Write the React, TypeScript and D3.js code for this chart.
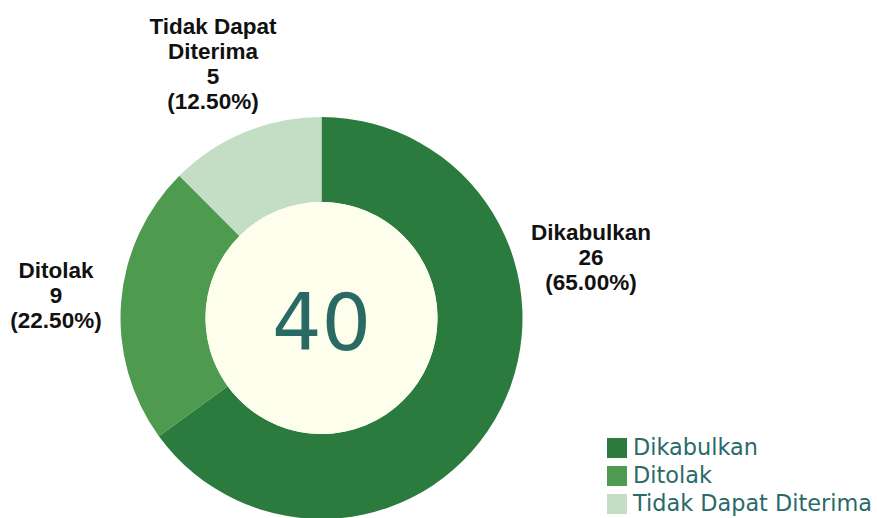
import React, { useEffect, useRef } from 'react'
import * as d3 from 'd3'

const categories = ['Dikabulkan', 'Ditolak', 'Tidak Dapat Diterima']
const counts = [26, 9, 5]
const colors = ['#2b7a3e', '#4e9a4f', '#c4dec6']

const W = 877
const H = 518

export default function App() {
  const ref = useRef<SVGSVGElement>(null)

  useEffect(() => {
    const svg = d3.select(ref.current)
    svg.selectAll('*').remove()

    const total = d3.sum(counts)
    const cx = 321.5, cy = 318
    const outerR = 201, innerR = 116

    const color = d3.scaleOrdinal<string, string>().domain(categories).range(colors)
    const data = categories.map((c, i) => ({ name: c, value: counts[i] }))

    const pie = d3.pie<any>().sort(null).value(d => d.value)
    const arc = d3.arc<any>().innerRadius(innerR).outerRadius(outerR)

    const g = svg.append('g').attr('transform', `translate(${cx},${cy})`)

    g.selectAll('path')
      .data(pie(data))
      .enter().append('path')
      .attr('d', arc)
      .attr('fill', d => color(d.data.name))

    // inner disc
    g.append('circle').attr('r', innerR).attr('fill', '#fdfeeb')

    g.append('text')
      .attr('text-anchor', 'middle')
      .attr('y', 32)
      .attr('font-family', 'DejaVu Sans, Verdana, sans-serif')
      .attr('font-size', 78)
      .attr('fill', '#2a6a64')
      .text(total)

    // outside labels (positions in page coords)
    const labelPos: [number, number, string[]][] = [
      [591, 240, ['Dikabulkan']],
      [56, 278, ['Ditolak']],
      [213, 34, ['Tidak Dapat', 'Diterima']],
    ]
    data.forEach((d, i) => {
      const [lx, ly, nameLines] = labelPos[i]
      const lines = [...nameLines, String(d.value), `(${(d.value / total * 100).toFixed(2)}%)`]
      const t = svg.append('text')
        .attr('text-anchor', 'middle')
        .attr('font-family', 'Liberation Sans, Arial, sans-serif')
        .attr('font-weight', 'bold')
        .attr('font-size', 22.5)
        .attr('fill', '#111')
      lines.forEach((ln, j) => {
        t.append('tspan').attr('x', lx).attr('y', ly + j * 25).text(ln)
      })
    })

    // legend
    const leg = svg.append('g').attr('transform', 'translate(607,438)')
    categories.forEach((c, i) => {
      const row = leg.append('g').attr('transform', `translate(0,${i * 28})`)
      row.append('rect').attr('width', 20).attr('height', 20).attr('fill', color(c))
      row.append('text')
        .attr('x', 26).attr('y', 17)
        .attr('font-family', 'DejaVu Sans, Verdana, sans-serif')
        .attr('font-size', 22.4)
        .attr('fill', '#2a6a6a')
        .text(c)
    })
  }, [])

  return (
    <div style={{ position: 'absolute', left: 0, top: 0 }}>
      <svg ref={ref} width={W} height={H} style={{ display: 'block', background: '#fff' }} />
    </div>
  )
}
